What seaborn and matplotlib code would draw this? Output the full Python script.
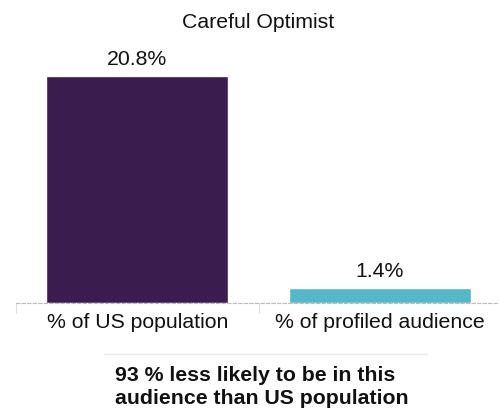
import matplotlib
matplotlib.use("Agg")
import matplotlib.pyplot as plt
import seaborn as sns
import pandas as pd

categories = ["% of US population", "% of profiled audience"]
values = [20.8, 1.4]
value_labels = ["20.8%", "1.4%"]
bar_colors = ["#3b1c4f", "#55b8c8"]
title = "Careful Optimist"
note = "93 % less likely to be in this\naudience than US population"

sns.set_style("white")
plt.rcParams["font.family"] = ["Liberation Sans", "DejaVu Sans"]

df = pd.DataFrame({"category": categories, "value": values})

fig = plt.figure(figsize=(4.99, 4.11), dpi=100)
ax = fig.add_axes([16 / 499, 108 / 411, 485 / 499, 263 / 411])
sns.barplot(data=df, x="category", y="value", hue="category", palette=bar_colors,
            width=0.75, legend=False, ax=ax, saturation=1)

for i, (v, lab) in enumerate(zip(values, value_labels)):
    ax.annotate(lab, (i, v), xytext=(0, 5), textcoords="offset points",
                ha="center", va="bottom", fontsize=15.3, color="#111111")

ax.set_xlim(-0.5, 1.5)
ax.set_ylim(0, 263 / 10.91)
ax.set_xlabel("")
ax.set_ylabel("")
ax.set_yticks([])
ax.tick_params(axis="x", length=0, pad=7, labelsize=15.3, labelcolor="#111111")
# light separators between the categories
ax.set_xticks([-0.5, 0.5], minor=True)
ax.tick_params(axis="x", which="minor", bottom=True, length=7, width=0.8,
               color="#e0e0e0", direction="out")
for s in ["top", "right", "left"]:
    ax.spines[s].set_visible(False)
ax.spines["bottom"].set_linestyle((0, (3, 2)))
ax.spines["bottom"].set_color("#bbbbbb")
ax.spines["bottom"].set_linewidth(0.8)

fig.text(258 / 499, 1 - 23 / 411, title, ha="center", va="center", fontsize=15.3, color="#111111")
fig.add_artist(plt.Line2D([104 / 499, 427 / 499], [1 - 354 / 411] * 2, color="#e8e8e8", lw=1))
fig.text(262 / 499, 1 - 387 / 411, note, ha="center", va="center", multialignment="left",
         fontsize=15.3, fontweight="bold", color="#111111", linespacing=1.25)

fig.savefig("out.png", dpi=100)
